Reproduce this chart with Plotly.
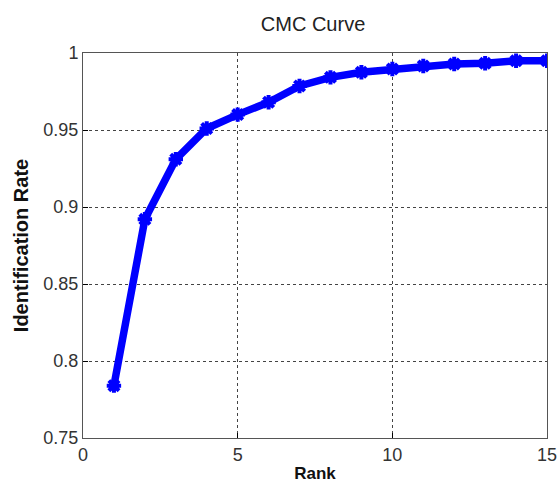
import plotly.graph_objects as go

ranks = list(range(1, 16))
rates = [0.784, 0.892, 0.931, 0.951, 0.960, 0.968, 0.9786, 0.9842, 0.9875,
         0.9896, 0.9916, 0.9929, 0.9933, 0.995, 0.995]
x_ticks = [0, 5, 10, 15]
y_ticks = [0.75, 0.8, 0.85, 0.9, 0.95, 1]
y_tick_text = ["0.75", "0.8", "0.85", "0.9", "0.95", "1"]

fig = go.Figure()
fig.add_trace(go.Scatter(
    x=ranks, y=rates, mode="lines+markers",
    line=dict(color="#0000ff", width=7.5),
    marker=dict(symbol="asterisk-open", size=12, color="#0000ff",
                line=dict(color="#0000ff", width=4)),
    showlegend=False,
))

fig.update_layout(
    width=558, height=488,
    margin=dict(l=83, r=11, t=53, b=50, autoexpand=False),
    paper_bgcolor="white", plot_bgcolor="white",
    font=dict(family="Liberation Sans, Arial, sans-serif", size=18, color="#333"),
    title=dict(text="CMC Curve", x=0.561, xanchor="center", y=0.951, yanchor="middle",
               font=dict(size=20, color="#222")),
)
fig.update_xaxes(
    range=[0, 15], tickvals=x_ticks, ticks="inside", ticklen=5, tickcolor="black",
    showline=True, linecolor="#555", linewidth=1, mirror=True,
    showgrid=True, gridcolor="#444", griddash="dot", gridwidth=1,
    zeroline=False, automargin=False,
    title=dict(text="<b>Rank</b>", font=dict(size=17, color="#111"), standoff=3),
)
fig.update_yaxes(
    range=[0.75, 1], tickvals=y_ticks, ticktext=y_tick_text, ticks="inside",
    ticklen=5, tickcolor="black",
    showline=True, linecolor="#555", linewidth=1, mirror=True,
    showgrid=True, gridcolor="#444", griddash="dot", gridwidth=1,
    zeroline=False, automargin=False,
    title=dict(text="<b>Identification Rate</b>", font=dict(size=20, color="#111"), standoff=9),
)
fig.write_html(
    "out.html",
    config={"displayModeBar": False},
    post_script="document.body.style.margin='0';document.body.style.padding='0';",
)
